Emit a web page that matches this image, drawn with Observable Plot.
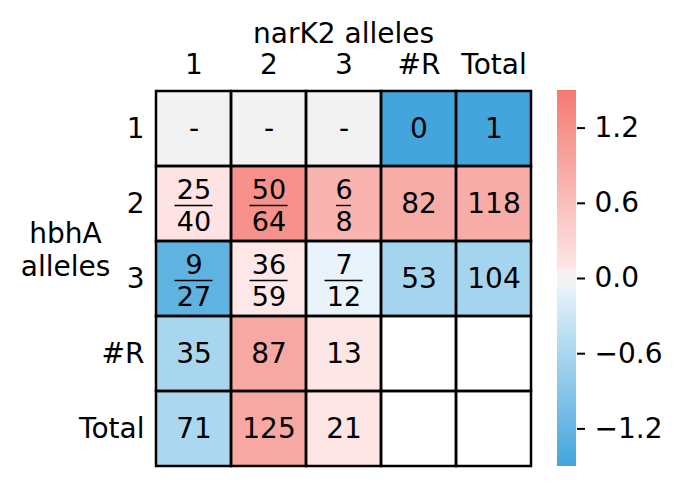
<!DOCTYPE html>
<html>
<head>
<meta charset="utf-8">
<script src="https://cdn.jsdelivr.net/npm/d3@7"></script>
<script src="https://cdn.jsdelivr.net/npm/@observablehq/plot@0.6"></script>
<style>
  html, body { margin: 0; padding: 0; background: white; }
  #wrap { position: relative; width: 683px; height: 491px; }
  #wrap svg { position: absolute; left: 0; top: 0; }
</style>
</head>
<body>
<div id="wrap"></div>
<script>
// ---- data ----
const colLabels = ["1", "2", "3", "#R", "Total"];
const rowLabels = ["1", "2", "3", "#R", "Total"];
const xTitle = "narK2 alleles";
const yTitle = "hbhA\nalleles";
// colour score per cell (row-major), null = empty cell
const cellScores = [
  [0, 0, 0, -1.5, -1.5],
  [0.12, 1.19, 0.74, 0.85, 0.85],
  [-1.25, 0.07, -0.07, -0.65, -0.65],
  [-0.61, 0.9, 0.09, null, null],
  [-0.59, 0.9, 0.1, null, null]
];
// text per cell; "a/b" is drawn as a fraction
const cellTexts = [
  ["-", "-", "-", "0", "1"],
  ["25/40", "50/64", "6/8", "82", "118"],
  ["9/27", "36/59", "7/12", "53", "104"],
  ["35", "87", "13", "", ""],
  ["71", "125", "21", "", ""]
];
const colorTicks = [-1.2, -0.6, 0, 0.6, 1.2];
const colorDomain = [-1.5, -0.0601, -0.06, 0.06, 0.0601, 1.5];
const colorRange = ["#42a5dc", "#e9f4fb", "#f2f2f2", "#f2f2f2", "#fde8e8", "#f47a72"];

// ---- table ----
const cells = [];
rowLabels.forEach((r, i) => colLabels.forEach((c, j) => {
  const t = cellTexts[i][j];
  const parts = t.split("/");
  cells.push({
    row: r, col: c, score: cellScores[i][j], text: t,
    isFrac: parts.length === 2,
    num: parts.length === 2 ? parts[0] : null,
    den: parts.length === 2 ? parts[1] : null,
    width: parts.length === 2 ? Math.max(parts[0].length, parts[1].length) : 0
  });
}));
const filled = cells.filter(d => d.score != null);
const plain = cells.filter(d => !d.isFrac && d.text !== "");
const fracs = cells.filter(d => d.isFrac);

const FONT = "DejaVu Sans";
const FS = 28;
const FFS = 27; // fraction digits
const colorOpt = {type: "linear", domain: colorDomain, range: colorRange, interpolate: "rgb"};

const main = Plot.plot({
  width: 683, height: 491,
  marginLeft: 155, marginRight: 152, marginTop: 90, marginBottom: 25,
  style: {fontFamily: FONT, fontSize: FS + "px", background: "transparent", overflow: "visible"},
  x: {type: "band", domain: colLabels, padding: 0},
  y: {type: "band", domain: rowLabels, padding: 0},
  color: colorOpt,
  marks: [
    Plot.cell(cells, {x: "col", y: "row", fill: "white"}),
    Plot.cell(filled, {x: "col", y: "row", fill: "score"}),
    Plot.cell(cells, {x: "col", y: "row", fill: "none", stroke: "black", strokeWidth: 2.5}),
    Plot.text(plain, {x: "col", y: "row", text: "text", fill: "black", fontSize: FS}),
    Plot.text(fracs, {x: "col", y: "row", text: "num", fill: "black", fontSize: FFS, dy: -14}),
    Plot.text(fracs, {x: "col", y: "row", text: "den", fill: "black", fontSize: FFS, dy: 18}),
    Plot.tickY(fracs.filter(d => d.width === 2), {x: "col", y: "row", stroke: "black", strokeWidth: 1.4, insetLeft: 18.5, insetRight: 18.5, dy: 1.5}),
    Plot.tickY(fracs.filter(d => d.width === 1), {x: "col", y: "row", stroke: "black", strokeWidth: 1.4, insetLeft: 30, insetRight: 30, dy: 1.5}),
    Plot.axisX({anchor: "top", tickSize: 0, tickPadding: 17, label: null, fontSize: FS}),
    Plot.axisY({anchor: "left", tickSize: 0, tickPadding: 11, label: null, fontSize: FS}),
    Plot.text([xTitle], {frameAnchor: "top", dy: -48, lineAnchor: "bottom", text: d => d, fontSize: FS}),
    Plot.text([yTitle], {frameAnchor: "left", textAnchor: "middle", dx: -90, dy: -30, lineAnchor: "middle", lineHeight: 1.18, text: d => d, fontSize: FS})
  ]
});

// ---- colorbar ----
const ramp = d3.range(-1.5, 1.5, 0.005).map(v => ({y1: v, y2: v + 0.012, v: v + 0.0025}));
const bar = Plot.plot({
  width: 683, height: 491,
  marginLeft: 557, marginRight: 107, marginTop: 90, marginBottom: 25,
  style: {fontFamily: FONT, fontSize: FS + "px", background: "transparent", overflow: "visible"},
  x: {axis: null},
  y: {type: "linear", domain: [-1.5, 1.5]},
  color: colorOpt,
  marks: [
    Plot.rect(ramp, {y1: "y1", y2: "y2", fill: "v", shapeRendering: "crispEdges", clip: true}),
    Plot.axisY({anchor: "right", ticks: colorTicks, tickFormat: d3.format(".1f"), tickSize: 8, tickPadding: 10, strokeWidth: 2, label: null, fontSize: FS})
  ]
});

const wrap = document.getElementById("wrap");
wrap.appendChild(main);
wrap.appendChild(bar);
</script>
</body>
</html>
